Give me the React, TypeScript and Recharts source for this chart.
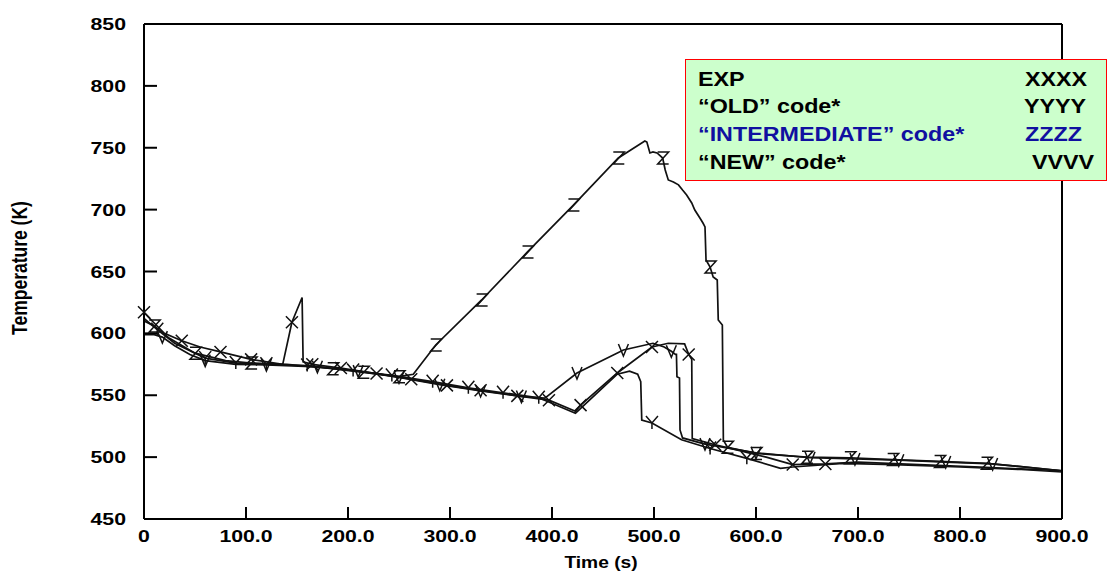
import React from 'react';
import { ComposedChart, Line, XAxis, YAxis } from 'recharts';

const X_TICKS = [0, 100, 200, 300, 400, 500, 600, 700, 800, 900];
const Y_TICKS = [450, 500, 550, 600, 650, 700, 750, 800, 850];

// [time (s), temperature (K)]
const EXP: [number, number][] = [
  [0, 617], [8, 610], [20, 600], [37, 594], [55, 589], [75, 585], [105, 579], [136, 575],
  [145, 609], [155, 629], [156, 577], [165, 575], [193, 572], [228, 567.5], [262, 563],
  [297, 558], [330, 554], [366, 549.5], [397, 546], [423, 537], [428, 542], [464, 568],
  [498, 589], [514, 592], [530, 591.5], [534, 583], [537, 579], [537.5, 515], [560, 510],
  [580, 506], [610, 500], [636, 494], [668, 494.5], [700, 496], [760, 494], [820, 492], [900, 489],
];
const EXP_MARKS = [0, 37, 75, 105, 145, 165, 193, 228, 262, 297, 330, 366, 397, 428, 464, 498, 534, 560, 636, 668];

const OLD: [number, number][] = [
  [0, 612], [13, 603], [30, 592], [60, 580], [90, 576], [120, 575], [160, 574], [205, 570],
  [243, 566], [283, 561], [318, 556], [352, 552], [387, 548], [423, 535.5], [464, 567],
  [476, 569.5], [484, 567], [487, 561], [488, 530], [498, 527.6], [527, 514], [555, 507],
  [591, 499], [624, 491], [636, 492], [685, 495], [735, 494], [800, 492], [860, 490], [900, 488],
];
const OLD_MARKS = [13, 60, 90, 120, 160, 205, 243, 283, 318, 352, 387, 498, 555, 591];

const INTERMEDIATE: [number, number][] = [
  [0, 610], [10, 606], [25, 596], [50, 584], [80, 578], [105, 576], [140, 575], [185, 571.5],
  [215, 568.5], [250, 565], [264, 567], [286, 590.6], [331, 627], [376, 665.8], [421, 703.7],
  [465, 741.7], [491, 755.5], [493, 754.6], [496, 745.8], [499, 746.6], [503, 745.8],
  [508.5, 741.7], [511, 732], [514, 724], [519, 722.3], [524, 720], [528, 715.8], [532, 711.8],
  [537, 705.4], [540, 699.7], [545, 693.2], [548, 689.2], [550, 686], [551, 659.3], [555, 653.6],
  [558, 645.6], [562, 643.1], [563, 610.8], [567, 606.8], [568, 513.8], [572, 508], [600, 503],
  [650, 500], [692, 499.5], [734, 498], [780, 496.5], [826, 495], [900, 489],
];
const INTERMEDIATE_MARKS = [10, 50, 105, 185, 215, 250, 286, 331, 376, 421, 465, 508.5, 555, 572, 600, 650, 692, 734, 780, 826];

const NEW: [number, number][] = [
  [0, 599], [10, 599], [18, 597], [30, 590], [45, 583], [60, 578], [90, 575], [120, 574.5],
  [170, 573], [210, 569.5], [250, 564.5], [290, 558.5], [330, 553.5], [370, 549], [393, 547.7],
  [424.5, 568], [470, 586.6], [499, 592], [510, 589], [517, 585.5], [521, 583], [522, 583],
  [522.5, 565], [525, 564], [525.5, 522], [528, 515.5], [550, 510.5], [600, 503.5], [653, 499.5],
  [697, 498.5], [740, 497.5], [786, 496], [832, 494.5], [900, 489],
];
const NEW_MARKS = [18, 60, 120, 170, 210, 250, 290, 330, 370, 424.5, 470, 517, 550, 600, 653, 697, 740, 786, 832];

const GLYPHS: Record<string, string> = {
  X: 'M-6 -6L6 6M6 -6L-6 6',
  Y: 'M-6 -7L0 0L6 -7M0 0L0 6',
  Z: 'M-5 -6L6 -6L-5 6L6 6',
  V: 'M-5 -6L0 6L5 -6',
};

const SERIES = [
  { name: 'EXP', points: EXP, marks: EXP_MARKS, glyph: 'X' },
  { name: 'OLD', points: OLD, marks: OLD_MARKS, glyph: 'Y' },
  { name: 'INTERMEDIATE', points: INTERMEDIATE, marks: INTERMEDIATE_MARKS, glyph: 'Z' },
  { name: 'NEW', points: NEW, marks: NEW_MARKS, glyph: 'V' },
];

const FONT = '"Liberation Sans", Arial, sans-serif';
const tickText = { fontFamily: FONT, fontWeight: 700, fontSize: 17, fill: '#000' };

const LeftTick = (p: any) => (
  <g>
    <line x1={p.x + 18} x2={p.x + 31} y1={p.y} y2={p.y} stroke="#000" strokeWidth={2} />
    <text transform={`translate(${p.x},${p.y + 6}) scale(1.25,1)`} textAnchor="end" style={tickText}>
      {p.payload.value}
    </text>
  </g>
);

const BottomTick = (p: any) => (
  <g>
    <line x1={p.x} x2={p.x} y1={p.y} y2={p.y - 12} stroke="#000" strokeWidth={2} />
    <text transform={`translate(${p.x},${p.y + 23}) scale(1.25,1)`} textAnchor="middle" style={tickText}>
      {p.payload.value === 0 ? '0' : p.payload.value.toFixed(1)}
    </text>
  </g>
);

const TopTick = (p: any) => (
  <line x1={p.x} x2={p.x} y1={p.y} y2={p.y + 12} stroke="#000" strokeWidth={2} />
);

const RightTick = (p: any) => (
  <line x1={p.x} x2={p.x - 12} y1={p.y} y2={p.y} stroke="#000" strokeWidth={2} />
);

const axisLine = { stroke: '#000', strokeWidth: 2 };

const App: React.FC = () => {
  return (
    <div style={{ position: 'absolute', left: 0, top: 0, width: 1108, height: 571, background: '#fff' }}>
      <ComposedChart width={1108} height={571} margin={{ top: 14, right: 36, bottom: 22, left: 84 }}>
        <XAxis
          dataKey="t" type="number" domain={[0, 900]} ticks={X_TICKS} interval={0}
          height={30} tickSize={0} tickMargin={0} tickLine={false} axisLine={axisLine} tick={<BottomTick />}
        />
        <XAxis
          xAxisId="top" orientation="top" dataKey="t" type="number" domain={[0, 900]} ticks={X_TICKS} interval={0}
          height={10} tickSize={0} tickMargin={0} tickLine={false} axisLine={axisLine} tick={<TopTick />}
        />
        <YAxis
          type="number" domain={[450, 850]} ticks={Y_TICKS} interval={0}
          width={60} tickSize={0} tickMargin={18} tickLine={false} axisLine={axisLine} tick={<LeftTick />}
        />
        <YAxis
          yAxisId="right" orientation="right" type="number" domain={[450, 850]} ticks={Y_TICKS} interval={0}
          width={10} tickSize={0} tickMargin={0} tickLine={false} axisLine={axisLine} tick={<RightTick />}
        />
        {SERIES.map((s) => (
          <Line
            key={s.name}
            name={s.name}
            data={s.points.map(([t, T]) => ({ t, T }))}
            dataKey="T"
            type="linear"
            stroke="#111"
            strokeWidth={1.7}
            isAnimationActive={false}
            activeDot={false}
            dot={(p: any) => {
              const key = `${s.name}-${p.index}`;
              if (!s.marks.includes(p.payload.t)) return <g key={key} />;
              return (
                <path key={key} d={GLYPHS[s.glyph]} transform={`translate(${p.cx},${p.cy})`}
                  stroke="#111" strokeWidth={1.5} fill="none" />
              );
            }}
          />
        ))}
      </ComposedChart>

      <svg width={1108} height={571} style={{ position: 'absolute', left: 0, top: 0, pointerEvents: 'none' }}>
        <text transform="translate(27,268) scale(1.25,1) rotate(-90)" textAnchor="middle"
          style={{ fontFamily: FONT, fontWeight: 700, fontSize: 17.5 }}>Temperature (K)</text>
        <text transform="translate(601,568) scale(1.2,1)" textAnchor="middle"
          style={{ fontFamily: FONT, fontWeight: 700, fontSize: 16 }}>Time (s)</text>

        <rect x={685.5} y={59.5} width={421} height={121} fill="#ccffcc" stroke="#ff0000" strokeWidth={1} />
        <g style={{ fontFamily: FONT, fontWeight: 700, fontSize: 21 }}>
          <text transform="translate(698,86) scale(1.11,1)">EXP</text>
          <text transform="translate(1025,86) scale(1.11,1)">XXXX</text>
          <text transform="translate(698,113) scale(1.11,1)">{'\u201COLD\u201D code*'}</text>
          <text transform="translate(1024,113) scale(1.11,1)">YYYY</text>
          <text transform="translate(698,141) scale(1.11,1)" fill="#1010a0">{'\u201CINTERMEDIATE\u201D code*'}</text>
          <text transform="translate(1025,141) scale(1.11,1)" fill="#1010a0">ZZZZ</text>
          <text transform="translate(698,169) scale(1.11,1)">{'\u201CNEW\u201D code*'}</text>
          <text transform="translate(1032,169) scale(1.11,1)">VVVV</text>
        </g>
      </svg>
    </div>
  );
};

export default App;
